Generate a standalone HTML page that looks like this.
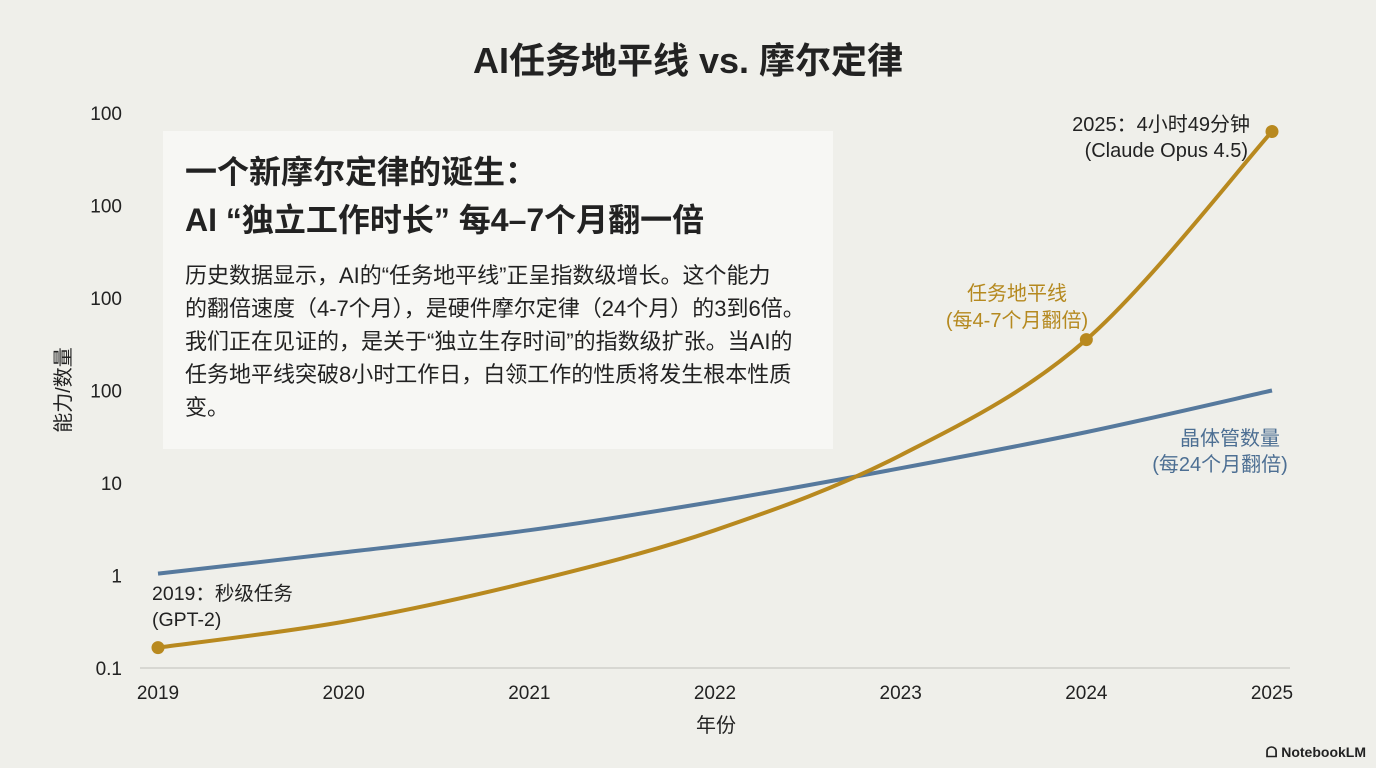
<!DOCTYPE html>
<html><head><meta charset="utf-8"><style>
body{margin:0;width:1376px;height:768px;background:#efefea;overflow:hidden;font-family:"Liberation Sans","Noto Sans CJK SC",sans-serif;color:#222}
</style></head><body>
<svg id="chart" width="1376" height="768" xmlns="http://www.w3.org/2000/svg" style="position:absolute;left:0;top:0;font-family:'Liberation Sans','Noto Sans CJK SC',sans-serif">
<text x="688" y="73" text-anchor="middle" font-size="36" font-weight="bold" fill="#222">AI任务地平线 vs. 摩尔定律</text>
<rect x="163" y="131" width="670" height="318" fill="#f7f7f4"/>
<text x="185" y="183" font-size="32" font-weight="bold" fill="#222">一个新摩尔定律的诞生：</text>
<text x="185" y="231" font-size="32" font-weight="bold" fill="#222">AI “独立工作时长” 每4–7个月翻一倍</text>
<g font-size="22" fill="#222">
<text x="185" y="283">历史数据显示，AI的“任务地平线”正呈指数级增长。这个能力</text>
<text x="185" y="316">的翻倍速度（4-7个月），是硬件摩尔定律（24个月）的3到6倍。</text>
<text x="185" y="349">我们正在见证的，是关于“独立生存时间”的指数级扩张。当AI的</text>
<text x="185" y="382">任务地平线突破8小时工作日，白领工作的性质将发生根本性质</text>
<text x="185" y="415">变。</text>
</g>
<line x1="140" y1="668" x2="1290" y2="668" stroke="#cfcfca" stroke-width="1.5"/>
<g id="yticks"></g>
<g id="xticks"></g>
<text transform="translate(70,390) rotate(-90)" text-anchor="middle" font-size="20" fill="#222">能力/数量</text>
<text x="716" y="732" text-anchor="middle" font-size="20" fill="#222">年份</text>
<g id="series"></g>
<text x="152" y="600" font-size="19.5" fill="#222">2019：秒级任务</text>
<text x="152" y="626" font-size="19.5" fill="#222">(GPT-2)</text>
<text x="1250" y="131" text-anchor="end" font-size="20" fill="#222">2025：4小时49分钟</text>
<text x="1248" y="157" text-anchor="end" font-size="20" fill="#222">(Claude Opus 4.5)</text>
<text x="1017" y="300" text-anchor="middle" font-size="20" fill="#b5891f">任务地平线</text>
<text x="1017" y="327" text-anchor="middle" font-size="20" fill="#b5891f">(每4-7个月翻倍)</text>
<text x="1230" y="445" text-anchor="middle" font-size="20" fill="#4d6f93">晶体管数量</text>
<text x="1220" y="471" text-anchor="middle" font-size="20" fill="#4d6f93">(每24个月翻倍)</text>
<text x="1366" y="757" text-anchor="end" font-size="14" font-weight="bold" fill="#222">ᗝ NotebookLM</text>
</svg>
<script>
const years=[2019,2020,2021,2022,2023,2024,2025];
const yTickLabels=["0.1","1","10","100","100","100","100"];
const transistorLevels=[1.02,1.25,1.49,1.8,2.16,2.55,3.0];
const horizonLevels=[0.22,0.5,0.93,1.49,2.3,3.55,5.8];
const X=y=>158+(y-2019)*(1272-158)/6;
const Y=l=>668-l*92.5;
const svg=document.getElementById('chart');
const NS='http://www.w3.org/2000/svg';
function mk(t,a,p){const e=document.createElementNS(NS,t);for(const k in a)e.setAttribute(k,a[k]);p.appendChild(e);return e;}
const yg=document.getElementById('yticks');
yTickLabels.forEach((s,i)=>{const t=mk('text',{x:122,y:Y(i)+7,'text-anchor':'end','font-size':19,fill:'#222'},yg);

t.textContent=s;});
const xg=document.getElementById('xticks');
years.forEach(y=>{const t=mk('text',{x:X(y),y:699,'text-anchor':'middle','font-size':19,fill:'#222'},xg);

t.textContent=y;});
function path(vals){const p=years.map((y,i)=>[X(y),Y(vals[i])]);let d='M'+p[0];
for(let i=0;i<p.length-1;i++){const p0=p[i-1]||p[i],p1=p[i],p2=p[i+1],p3=p[i+2]||p2;
const c1=[p1[0]+(p2[0]-p0[0])/6,p1[1]+(p2[1]-p0[1])/6],c2=[p2[0]-(p3[0]-p1[0])/6,p2[1]-(p3[1]-p1[1])/6];
d+=' C'+c1+' '+c2+' '+p2;}return d;}
const sg=document.getElementById('series');
const b=mk('path',{d:path(transistorLevels),fill:'none',stroke:'#56799d','stroke-width':4},sg);


const g=mk('path',{d:path(horizonLevels),fill:'none',stroke:'#b8891f','stroke-width':4},sg);


[0,5,6].forEach(i=>{const c=mk('circle',{cx:X(years[i]),cy:Y(horizonLevels[i]),r:6.5,fill:'#b8891f'},sg);

});
</script>
</body></html>
